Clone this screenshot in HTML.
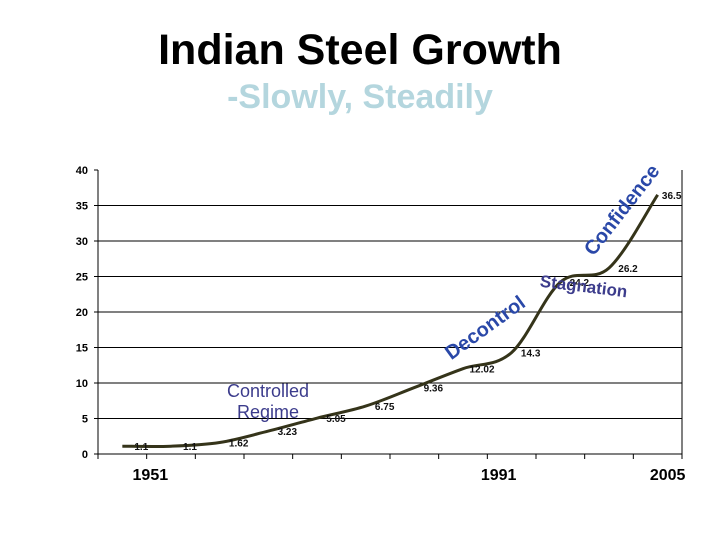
<!DOCTYPE html>
<html><head><meta charset="utf-8"><style>
body{margin:0;background:#fff;}
svg{display:block;font-family:"Liberation Sans",Arial,sans-serif;}
</style></head><body>
<svg id="chart" width="720" height="540">
<text x="360" y="64" text-anchor="middle" font-size="43" font-weight="bold" fill="#000">Indian Steel Growth</text>
<text x="360" y="108" text-anchor="middle" font-size="34" font-weight="bold" fill="#b4d6de">-Slowly, Steadily</text>
<g id="grid"></g><g id="axes"></g><g id="series"></g><g id="labels"></g>
<text x="268" y="397" text-anchor="middle" font-size="18" fill="#3c3c8c"><tspan x="268">Controlled</tspan><tspan x="268" dy="21">Regime</tspan></text>
<text transform="translate(489,333) rotate(-36)" text-anchor="middle" font-size="20" font-weight="bold" fill="#2a48a8">Decontrol</text>
<text transform="translate(583,292) rotate(7)" text-anchor="middle" font-size="17" font-weight="bold" fill="#3c3c8c">Stagnation</text>
<text transform="translate(627,214) rotate(-52)" text-anchor="middle" font-size="20" font-weight="bold" fill="#2a48a8">Confidence</text>
</svg>
<script>
const values=[1.1,1.1,1.62,3.23,5.05,6.75,9.36,12.02,14.3,24.2,26.2,36.5];
const yTicks=[0,5,10,15,20,25,30,35,40];
const yearLabels=[{i:0,t:"1951",dx:28},{i:8,t:"1991",dx:-13},{i:11,t:"2005",dx:10}];
const NS="http://www.w3.org/2000/svg";
const X0=98,X1=682,Y0=454,Y1=170,n=values.length;
const bw=(X1-X0)/n;
const xs=i=>X0+bw*(i+0.5);
const ys=v=>Y0-(v/40)*(Y0-Y1);
function mk(tag,at,parent){const e=document.createElementNS(NS,tag);for(const k in at)e.setAttribute(k,at[k]);document.getElementById(parent).appendChild(e);return e;}
yTicks.forEach(t=>{
 if(t>0&&t<40){const l=mk('line',{x1:X0,x2:X1,y1:ys(t),y2:ys(t),stroke:'#000','stroke-width':1},'grid');
 
 }
 const tx=mk('text',{x:X0-10,y:ys(t)+4,'text-anchor':'end','font-size':11,'font-weight':'bold'},'axes');tx.textContent=t;
 
 
 const tk=mk('line',{x1:X0-4,x2:X0,y1:ys(t),y2:ys(t),stroke:'#000'},'axes');
 
 
});
const ya=mk('line',{x1:X0,x2:X0,y1:Y1,y2:Y0,stroke:'#000'},'axes');


const xa=mk('line',{x1:X0,x2:X1,y1:Y0,y2:Y0,stroke:'#000'},'axes');


const ra=mk('line',{x1:X1,x2:X1,y1:Y1,y2:Y0,stroke:'#000'},'axes');


for(let i=0;i<=n;i++){const t=mk('line',{x1:X0+bw*i,x2:X0+bw*i,y1:Y0,y2:Y0+5,stroke:'#000'},'axes');
 
 }
yearLabels.forEach(o=>{const t=mk('text',{x:xs(o.i)+o.dx,y:480,'text-anchor':'middle','font-size':16,'font-weight':'bold'},'axes');t.textContent=o.t;
 
 });
const P=values.map((v,i)=>[xs(i),ys(v)]);
let d='M'+P[0][0]+','+P[0][1];
for(let i=0;i<n-1;i++){const p0=P[Math.max(i-1,0)],p1=P[i],p2=P[i+1],p3=P[Math.min(i+2,n-1)];
 d+=` C${p1[0]+(p2[0]-p0[0])/6},${p1[1]+(p2[1]-p0[1])/6} ${p2[0]-(p3[0]-p1[0])/6},${p2[1]-(p3[1]-p1[1])/6} ${p2[0]},${p2[1]}`;}
const line=mk('path',{d:d,fill:'none',stroke:'#35341a','stroke-width':3},'series');


values.forEach((v,i)=>{const t=mk('text',{x:xs(i)+(i==11?14:19),y:ys(v)+4,'text-anchor':'middle','font-size':10,'font-weight':'bold',fill:'#111'},'labels');t.textContent=v;
 
 });
</script>
</body></html>
